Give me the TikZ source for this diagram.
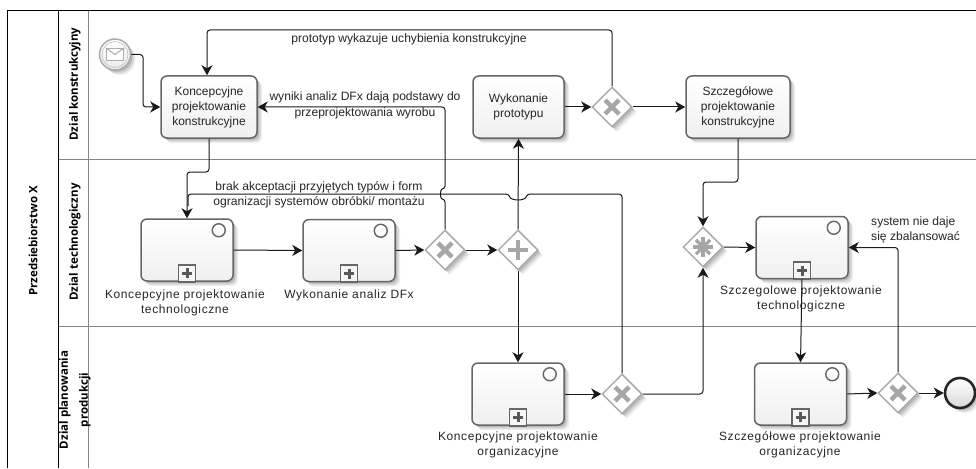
\documentclass[tikz,border=0pt]{standalone}
\usepackage{xcolor}
\usepackage{fontspec}
\setmainfont{Liberation Sans}
\newfontfamily\lanefont{Open Sans}
\newfontfamily\capfont[LetterSpace=5]{Liberation Sans}
\usetikzlibrary{shapes,shapes.geometric,arrows.meta,positioning,calc,shadows}
\definecolor{edgegray}{HTML}{666666}
\definecolor{gategray}{HTML}{ABABAB}
\definecolor{markgray}{HTML}{A6A6A6}
\definecolor{linegray}{HTML}{858585}
\definecolor{inkgray}{HTML}{262626}

\begin{document}
\begin{tikzpicture}[
    x=1pt, y=-1pt,
    softshadow/.style={
        drop shadow={shadow xshift=5pt, shadow yshift=-5pt, opacity=0.07, fill=black},
        drop shadow={shadow xshift=3.5pt, shadow yshift=-3.5pt, opacity=0.1, fill=black},
        drop shadow={shadow xshift=2pt, shadow yshift=-2pt, opacity=0.12, fill=black}},
    task/.style={rectangle, rounded corners=6pt, draw=edgegray, line width=1.5pt, top color=white, bottom color=black!6, softshadow, minimum height=62pt, inner sep=0pt, align=center, font=\fontsize{12}{15}\selectfont, text=inkgray},
    gateway/.style={diamond, aspect=1, draw=gategray, line width=1.5pt, fill=white, softshadow, minimum width=40pt, minimum height=40pt, inner sep=0pt},
    flow/.style={-{Stealth[length=10pt, width=11pt, inset=3pt]}, line width=1pt, black!90, rounded corners=3pt},
    plainflow/.style={line width=1pt, black!90, rounded corners=3pt},
    caption/.style={align=center, inner sep=0pt, font=\capfont\fontsize{12}{15}\selectfont, text=inkgray},
    flowlabel/.style={align=center, inner sep=0pt, font=\fontsize{12.1}{15}\selectfont, text=inkgray},
    lanetitle/.style={rotate=90, align=center, inner sep=0pt, font=\lanefont\bfseries\fontsize{11.5}{20}\selectfont, text=black},
    markstroke/.style={line width=4.5pt, markgray}
]
    \useasboundingbox (0,0) rectangle (976,468);

    % Pool and lanes
    \fill[white] (0,0) rectangle (976,468);
    \draw[linegray, line width=1pt] (58,159) -- (976,159);
    \draw[linegray, line width=1pt] (58,326) -- (976,326);
    \draw[linegray, line width=1pt] (88,10) -- (88,468);
    \draw[black, line width=0.9pt] (976,10) -- (7,10) -- (7,468);
    \draw[black, line width=0.9pt] (58,10) -- (58,468);

    \node[lanetitle] (pool) at (33,241) {Przedsiebiorstwo X};
    \node[lanetitle] (lanea) at (75,84) {Dzial konstrukcyjny};
    \node[lanetitle] (laneb) at (75,242) {Dzial technologiczny};
    \node[lanetitle] (lanec) at (75,400) {Dzial planowania\\produkcji};

    % Events
    \node[circle, draw=gategray, line width=1.5pt, top color=white, bottom color=black!8, softshadow, minimum size=31pt, inner sep=0pt] (start) at (115,54.5) {};
    \node[circle, draw=gategray!70, line width=0.7pt, minimum size=26pt, inner sep=0pt] (startring) at (115,54.5) {};
    \node[rectangle, draw=gategray, line width=1pt, fill=white, minimum width=17pt, minimum height=12pt, inner sep=0pt] (envelope) at (115,54.5) {};
    \draw[gategray, line width=1pt] (envelope.north west) -- (envelope.center) -- (envelope.north east);
    \node[circle, draw=black!85, line width=2.6pt, top color=white, bottom color=black!15, softshadow, minimum size=30pt, inner sep=0pt] (stop) at (960,393) {};

    % Tasks with text
    \node[task, minimum width=96pt] (konstr) at (209,107) {Koncepcyjne\\projektowanie\\konstrukcyjne};
    \node[task, minimum width=91pt] (proto) at (518.5,107) {Wykonanie\\prototypu};
    \node[task, minimum width=104pt] (szczkon) at (738,107) {Szczegółowe\\projektowanie\\konstrukcyjne};

    % Collapsed tasks
    \node[task, minimum width=92pt] (kontech) at (187,250) {};
    \node[task, minimum width=92pt] (analiza) at (349,250.5) {};
    \node[task, minimum width=92pt] (szcztech) at (802,247.5) {};
    \node[task, minimum width=92pt] (konorg) at (518,394) {};
    \node[task, minimum width=92pt] (szczorg) at (800.5,394) {};
    \foreach \t in {kontech,analiza,szcztech,konorg,szczorg} {
        \draw[edgegray, line width=1.4pt] ([shift={(-15,12)}]\t.north east) circle (6.5);
        \draw[edgegray, line width=1.6pt, fill=black!4] ([shift={(-8.5,-17)}]\t.south) rectangle ([shift={(8.5,0)}]\t.south);
        \draw[black!65, line width=3pt] ([shift={(-5,-8.5)}]\t.south) -- ([shift={(5,-8.5)}]\t.south);
        \draw[black!65, line width=3pt] ([shift={(0,-13.5)}]\t.south) -- ([shift={(0,-3.5)}]\t.south);
    }

    \node[caption] (capa) at (185,302.5) {Koncepcyjne projektowanie\\technologiczne};
    \node[caption] (capb) at (349,295) {Wykonanie analiz DFx};
    \node[caption] (capc) at (801,299) {Szczegolowe projektowanie\\technologiczne};
    \node[caption] (capd) at (518,445) {Koncepcyjne projektowanie\\organizacyjne};
    \node[caption] (cape) at (800,445) {Szczegółowe projektowanie\\organizacyjne};

    % Gateways
    \node[gateway] (gwa) at (612,107) {};
    \node[gateway] (gwb) at (445,250) {};
    \node[gateway] (gwc) at (622,394) {};
    \node[gateway] (gwd) at (898,393) {};
    \node[gateway] (gwplus) at (518,250) {};
    \node[gateway] (gwstar) at (703,247) {};
    \foreach \g in {gwa,gwb,gwc,gwd} {
        \draw[markstroke] ([shift={(-7,-7)}]\g.center) -- ([shift={(7,7)}]\g.center);
        \draw[markstroke] ([shift={(-7,7)}]\g.center) -- ([shift={(7,-7)}]\g.center);
    }
    \draw[markstroke] ([shift={(-10,0)}]gwplus.center) -- ([shift={(10,0)}]gwplus.center);
    \draw[markstroke] ([shift={(0,-10)}]gwplus.center) -- ([shift={(0,10)}]gwplus.center);
    \foreach \a in {0,45,90,135} {
        \draw[markgray, line width=3.2pt] ([shift={(\a:10)}]gwstar.center) -- ([shift={(\a+180:10)}]gwstar.center);
    }

    % Bend points
    \coordinate (startturn) at (143,54.5);
    \coordinate (startbend) at (143,107);
    \coordinate (konbend) at (209,172);
    \coordinate (szczbend) at (738,182);
    \coordinate (loopup) at (612,30);
    \coordinate (brakend) at (188,206);
    \coordinate (brakturn) at (622,194);
    \coordinate (hopa) at (445,199);
    \coordinate (hopb) at (445,189);
    \coordinate (hopc) at (527,194);
    \coordinate (hopd) at (509,194);

    % Flows
    \draw[flow] (start.east) -- (startturn) -- (startbend) -- (konstr.west);
    \draw[flow] (konstr.south) -- (konbend) -| (kontech.north);
    \draw[flow] (gwa.north) -- (loopup) -| ([xshift=-2pt]konstr.north);
    \draw[flow] (gwb.north) -- (hopa) .. controls (440,199) and (440,189) .. (hopb) |- (konstr.east);
    \draw[plainflow] (gwc.north) -- (brakturn) -- (hopc) .. controls (525,201) and (511,201) .. (hopd) -- (188,194) -- (brakend);
    \draw[flow] (proto.east) -- (gwa.west);
    \draw[flow] (gwa.east) -- (szczkon.west);
    \draw[flow] (szczkon.south) -- (szczbend) -| (gwstar.north);
    \draw[flow] (kontech.east) -- (analiza.west);
    \draw[flow] (analiza.east) -- (gwb.west);
    \draw[flow] (gwb.east) -- (gwplus.west);
    \draw[flow] (gwplus.north) -- (proto.south);
    \draw[flow] (gwplus.south) -- (konorg.north);
    \draw[flow] (gwstar.east) -- (szcztech.west);
    \draw[flow] (konorg.east) -- (gwc.west);
    \draw[flow] (gwc.east) -| (gwstar.south);
    \draw[flow] (szcztech.south) -- (szczorg.north);
    \draw[flow] (szczorg.east) -- (gwd.west);
    \draw[flow] (gwd.north) |- (szcztech.east);
    \draw[flow] (gwd.east) -- (stop.west);

    % Flow labels
    \node[flowlabel] (labloop) at (409,39) {prototyp wykazuje uchybienia konstrukcyjne};
    \node[flowlabel] (labdfx) at (365,105) {wyniki analiz DFx dają podstawy do\\[1pt]przeprojektowania wyrobu};
    \node[flowlabel] (labbrak) at (319,194.5) {brak akceptacji przyjętych typów i form\\ogranizacji systemów obróbki/ montażu};
    \node[flowlabel, align=left, anchor=west] (labsys) at (871,229.5) {system nie daje\\się zbalansować};
\end{tikzpicture}
\end{document}
